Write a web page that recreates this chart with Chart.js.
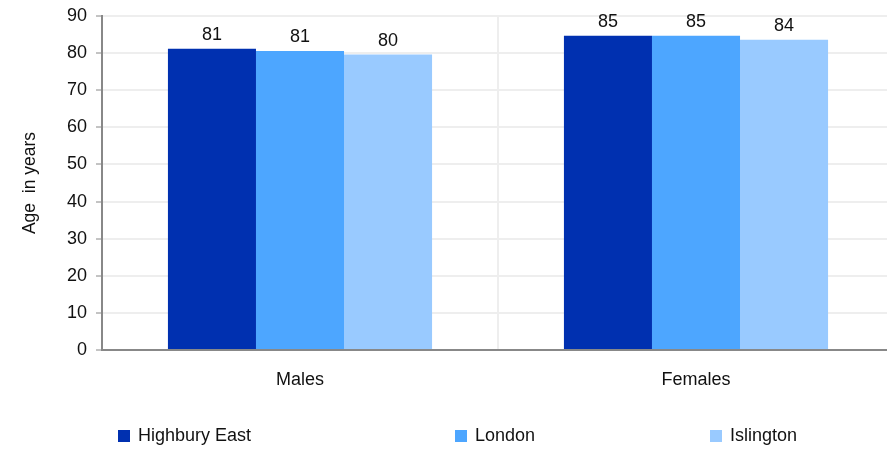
<!DOCTYPE html>
<html>
<head>
<meta charset="utf-8">
<script src="https://cdn.jsdelivr.net/npm/chart.js@4"></script>
<style>
  html, body { margin: 0; padding: 0; background: #fff; }
  #wrap { width: 887px; height: 449px; }
</style>
</head>
<body>
<div id="wrap"><canvas id="chart" width="887" height="449"></canvas></div>
<script>
const categories = ["Males", "Females"];
const seriesNames = ["Highbury East", "London", "Islington"];
const highburyEast = [81.2, 84.7];
const london = [80.6, 84.7];
const islington = [79.6, 83.6];
const seriesColors = ["#0030B0", "#4DA6FF", "#99CAFF"];
const yTicks = [0, 10, 20, 30, 40, 50, 60, 70, 80, 90];

const FONT = "'Liberation Sans', Arial, sans-serif";

// value labels above each bar
const barLabels = {
    id: "barLabels",
    afterDatasetsDraw(chart) {
        const ctx = chart.ctx;
        ctx.save();
        ctx.font = "18px " + FONT;
        ctx.fillStyle = "#111";
        ctx.textAlign = "center";
        ctx.textBaseline = "bottom";
        chart.data.datasets.forEach((ds, i) => {
            chart.getDatasetMeta(i).data.forEach((bar, j) => {
                ctx.fillText(Math.round(ds.data[j]), bar.x, bar.y - 5);
            });
        });
        ctx.restore();
    }
};

// legend spread across the bottom
const bottomLegend = {
    id: "bottomLegend",
    afterDraw(chart) {
        const ctx = chart.ctx;
        const xs = [118, 455, 710];
        const y = 436;
        ctx.save();
        ctx.font = "18px " + FONT;
        ctx.textBaseline = "middle";
        chart.data.datasets.forEach((ds, i) => {
            ctx.fillStyle = ds.backgroundColor;
            ctx.fillRect(xs[i], y - 6, 12, 12);
            ctx.fillStyle = "#111";
            ctx.fillText(ds.label, xs[i] + 20, y);
        });
        ctx.restore();
    }
};

// plot area in the original runs a little past the right edge
const widenPlot = {
    id: "widenPlot",
    afterLayout(chart) {
        const x = chart.scales.x;
        const r = chart.width + 7;
        chart.chartArea.right = r;
        chart.chartArea.width = r - chart.chartArea.left;
        x.right = r;
        x.width = r - x.left;
        x.configure();
    }
};

new Chart(document.getElementById("chart"), {
    type: "bar",
    data: {
        labels: categories,
        datasets: [
            { label: seriesNames[0], data: highburyEast, backgroundColor: seriesColors[0] },
            { label: seriesNames[1], data: london, backgroundColor: seriesColors[1] },
            { label: seriesNames[2], data: islington, backgroundColor: seriesColors[2] }
        ]
    },
    options: {
        responsive: false,
        animation: false,
        devicePixelRatio: 1,
        layout: { padding: { top: 16, right: 0, left: 0, bottom: 0 } },
        datasets: {
            bar: { categoryPercentage: 0.667, barPercentage: 1.0 }
        },
        plugins: {
            legend: { display: false },
            tooltip: { enabled: false }
        },
        scales: {
            x: {
                grid: { color: "#eeeeee", lineWidth: 2, drawTicks: false, offset: true },
                border: { color: "#888", width: 2 },
                ticks: { color: "#111", font: { family: FONT, size: 18 }, padding: 19 },
                afterFit(scale) { scale.height = 99; }
            },
            y: {
                min: 0,
                max: 90,
                afterBuildTicks(scale) { scale.ticks = yTicks.map(v => ({ value: v })); },
                grid: { color: "#eeeeee", lineWidth: 2, tickColor: "#888", tickLength: 6, tickWidth: 1 },
                border: { color: "#888", width: 2 },
                ticks: { color: "#111", font: { family: FONT, size: 18 }, padding: 9 },
                title: {
                    display: true,
                    text: "Age  in years",
                    color: "#111",
                    font: { family: FONT, size: 17.5 },
                    padding: { top: 20, bottom: 0 }
                },
                afterFit(scale) {
                    scale.width = 102;
                    scale.paddingTop = 0;
                    scale.paddingBottom = 0;
                }
            }
        }
    },
    plugins: [barLabels, bottomLegend, widenPlot]
});
</script>
</body>
</html>
